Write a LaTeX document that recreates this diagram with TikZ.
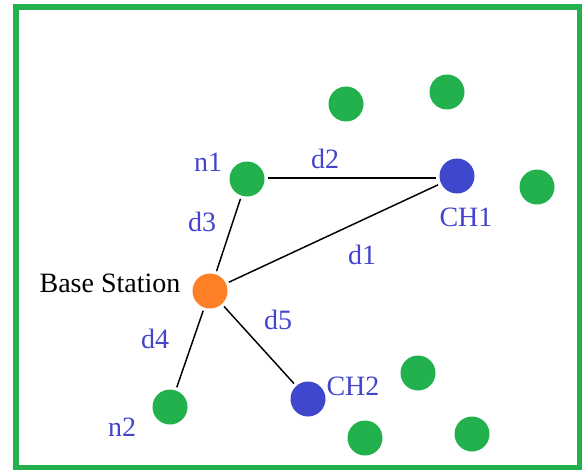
\documentclass[tikz,border=0pt]{standalone}
\usepackage{fontspec}
\setmainfont{Liberation Serif}
\definecolor{pgreen}{HTML}{22B14C}
\definecolor{pblue}{HTML}{3F48CC}
\definecolor{porange}{HTML}{FF7F27}
\definecolor{ptext}{HTML}{4444CC}
\begin{document}
\begin{tikzpicture}[x=0.75pt,y=-0.75pt,
  dot/.style={circle,minimum size=35*0.75pt,inner sep=0pt,outer sep=2.5pt},
  gdot/.style={dot,fill=pgreen},
  bdot/.style={dot,fill=pblue},
  odot/.style={dot,fill=porange},
  lbl/.style={inner sep=0pt,text=ptext,font=\fontsize{21}{25}\selectfont},
  blbl/.style={inner sep=0pt,text=black,font=\fontsize{21}{25}\selectfont},
  link/.style={draw=black,line width=1.1pt}]
\useasboundingbox (0,0) rectangle (584,470);
\draw[pgreen,line width=4.2pt] (15.8,6.8) rectangle (579.5,467.3);
% nodes
\node[gdot] (n1) at (247,179) {};
\node[odot] (bs) at (210,291) {};
\node[bdot] (ch1) at (457,176) {};
\node[bdot] (ch2) at (308,399) {};
\node[gdot] (n2) at (170,407) {};
\node[gdot] (g1) at (346,104) {};
\node[gdot] (g2) at (447,92) {};
\node[gdot] (g3) at (537,187) {};
\node[gdot] (g4) at (418,373) {};
\node[gdot] (g5) at (365,438) {};
\node[gdot] (g6) at (472,434) {};
% links
\draw[link] ([yshift=0.75pt]n1.east) -- ([yshift=0.75pt]n1.east -| ch1.west);
\draw[link] (n1) -- (bs);
\draw[link] (bs) -- (ch1);
\draw[link] (bs) -- (n2);
\draw[link] (bs) -- (ch2);
% labels
\node[lbl] (ln1) at (208,162) {n1};
\node[lbl] (ld3) at (202,222) {d3};
\node[lbl] (ld2) at (325,159) {d2};
\node[lbl] (lch1) at (466,217) {CH1};
\node[lbl] (ld1) at (362,255) {d1};
\node[blbl] (lbs) at (110,283) {Base Station};
\node[lbl] (ld5) at (278,320) {d5};
\node[lbl] (ld4) at (155,339) {d4};
\node[lbl] (lch2) at (353,386) {CH2};
\node[lbl] (ln2) at (122,427) {n2};
\end{tikzpicture}
\end{document}
